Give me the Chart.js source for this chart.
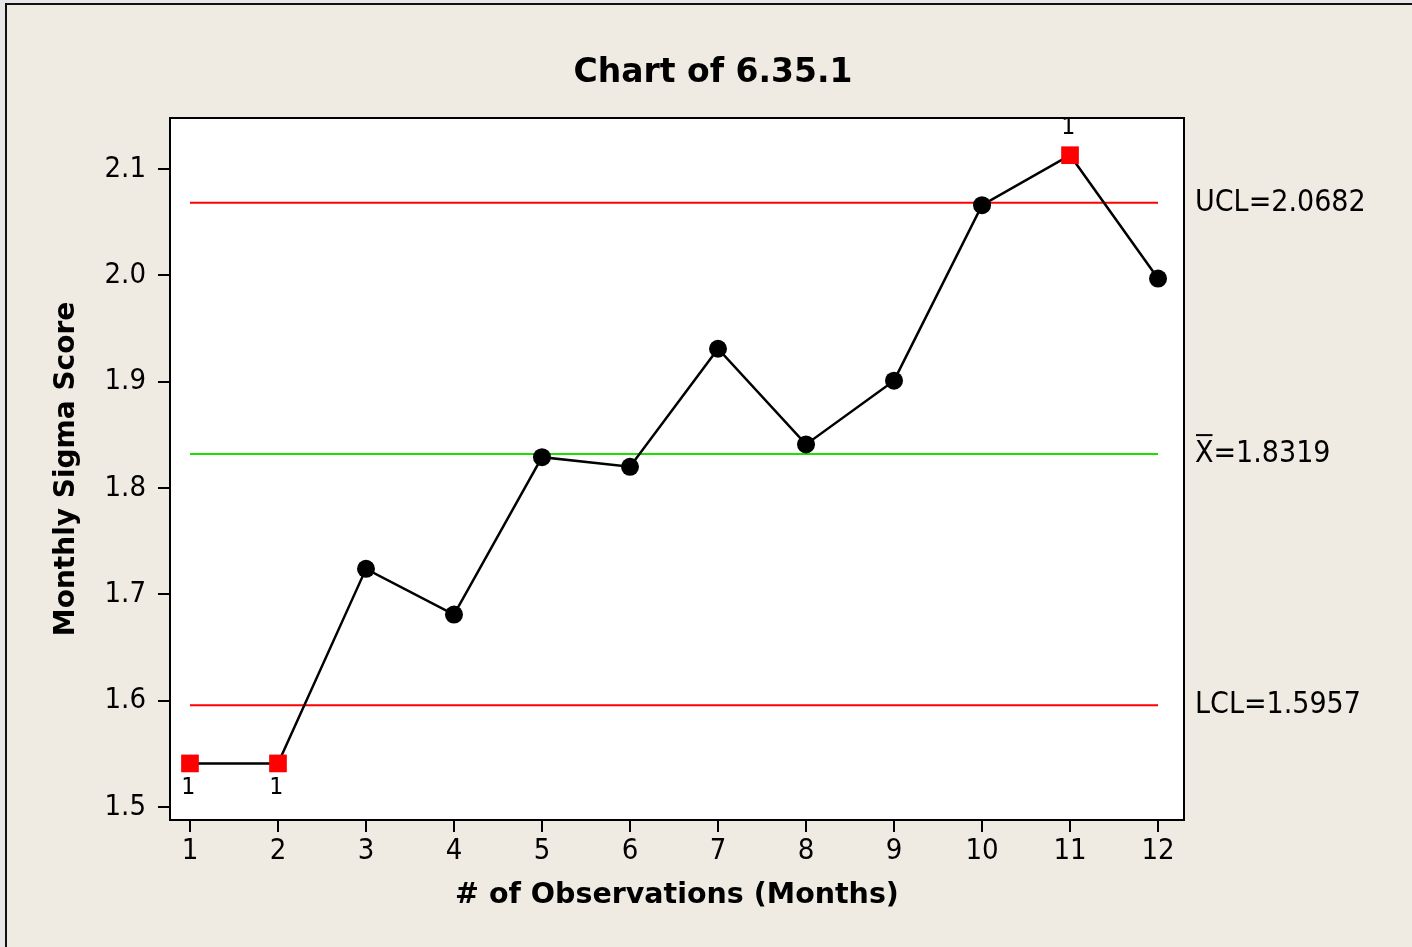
<!DOCTYPE html>
<html>
<head>
<meta charset="utf-8">
<title>Chart of 6.35.1</title>
<script src="https://cdn.jsdelivr.net/npm/chart.js@4.4.1/dist/chart.umd.min.js"></script>
<style>
  html, body { margin: 0; padding: 0; background: #e7e7e9; }
  canvas { display: block; }
</style>
</head>
<body>
<canvas id="chart" width="1412" height="947"></canvas>
<script>
const months = [1, 2, 3, 4, 5, 6, 7, 8, 9, 10, 11, 12];
const sigmaScores = [1.541, 1.541, 1.724, 1.681, 1.829, 1.820, 1.931, 1.841, 1.901, 2.066, 2.113, 1.997];
// points that failed test 1 (beyond the limits)
const failedTest = [true, true, false, false, false, false, false, false, false, false, true, false];

const ucl = 2.0682;
const xBar = 1.8319;
const lcl = 1.5957;

const yTicks = [1.5, 1.6, 1.7, 1.8, 1.9, 2.0, 2.1];

const FONT = '"DejaVu Sans Condensed", "DejaVu Sans", sans-serif';
const BOLD_FONT = '"DejaVu Sans", sans-serif';
const BG = '#efebe2';

// control line from first to last observation
const flatLine = (v) => [{ x: months[0], y: v }, { x: months[months.length - 1], y: v }];

const minitabLook = {
	id: 'minitabLook',
	beforeDraw(chart) {
		const { ctx, width, height, chartArea: a } = chart;
		ctx.save();
		ctx.fillStyle = BG;
		ctx.fillRect(7, 5, width - 7, height - 5);
		ctx.strokeStyle = '#111';
		ctx.lineWidth = 2;
		ctx.beginPath();
		ctx.moveTo(6, height);
		ctx.lineTo(6, 4);
		ctx.lineTo(width, 4);
		ctx.stroke();
		ctx.fillStyle = '#fff';
		ctx.fillRect(a.left, a.top, a.right - a.left, a.bottom - a.top);
		ctx.restore();
	},
	afterDraw(chart) {
		const { ctx, chartArea: a } = chart;
		const xs = chart.scales.x;
		const ys = chart.scales.y;
		ctx.save();

		// plot box
		ctx.strokeStyle = '#000';
		ctx.lineWidth = 2;
		ctx.strokeRect(a.left, a.top, a.right - a.left, a.bottom - a.top);

		// title
		ctx.fillStyle = '#000';
		ctx.font = 'bold 33px ' + BOLD_FONT;
		ctx.textAlign = 'center';
		ctx.textBaseline = 'middle';
		ctx.fillText('Chart of 6.35.1', 713, 73);

		// limit labels
		ctx.font = '30px ' + FONT;
		ctx.textAlign = 'left';
		const lx = a.right + 11;
		ctx.fillText('UCL=' + ucl.toFixed(4), lx, ys.getPixelForValue(ucl));
		ctx.fillText('LCL=' + lcl.toFixed(4), lx, ys.getPixelForValue(lcl));
		const my = ys.getPixelForValue(xBar);
		ctx.fillText('X=' + xBar.toFixed(4), lx, my);
		const xw = ctx.measureText('X').width;
		ctx.fillRect(lx + 1, my - 20, xw - 2, 2);

		// test 1 flags
		ctx.font = '23px "DejaVu Sans Mono", monospace';
		ctx.textAlign = 'center';
		sigmaScores.forEach((v, i) => {
			if (!failedTest[i]) return;
			const px = xs.getPixelForValue(months[i]);
			const py = ys.getPixelForValue(v);
			ctx.fillText('1', px - 2, v > xBar ? py - 27 : py + 25);
		});
		ctx.restore();
	}
};

const limitStyle = (color) => ({
	borderColor: color,
	borderWidth: 2,
	pointRadius: 0,
	fill: false,
	order: 2
});

new Chart(document.getElementById('chart'), {
	type: 'line',
	data: {
		datasets: [
			Object.assign({ label: 'UCL', data: flatLine(ucl) }, limitStyle('#ff0000')),
			Object.assign({ label: 'Mean', data: flatLine(xBar) }, limitStyle('#1ee000')),
			Object.assign({ label: 'LCL', data: flatLine(lcl) }, limitStyle('#ff0000')),
			{
				label: 'Monthly Sigma Score',
				data: months.map((m, i) => ({ x: m, y: sigmaScores[i] })),
				borderColor: '#000',
				borderWidth: 2.5,
				tension: 0,
				pointStyle: (c) => failedTest[c.dataIndex] ? 'rect' : 'circle',
				pointRadius: (c) => failedTest[c.dataIndex] ? 12.5 : 9,
				pointBackgroundColor: (c) => failedTest[c.dataIndex] ? '#ff0000' : '#000',
				pointBorderColor: (c) => failedTest[c.dataIndex] ? '#ff0000' : '#000',
				pointBorderWidth: 0,
				order: 1
			}
		]
	},
	options: {
		responsive: false,
		animation: false,
		layout: { padding: { top: 118, right: 228, bottom: 0, left: 0 } },
		plugins: {
			legend: { display: false },
			title: { display: false },
			tooltip: { enabled: false }
		},
		scales: {
			x: {
				type: 'linear',
				min: 0.773,
				max: 12.295,
				afterFit: (s) => { s.height = 127; },
				afterBuildTicks: (s) => { s.ticks = months.map((v) => ({ value: v })); },
				grid: { drawOnChartArea: false, drawTicks: true, tickLength: 12, color: '#000', lineWidth: 2 },
				border: { display: true, color: '#000', width: 2 },
				ticks: { color: '#000', font: { family: FONT, size: 29 }, padding: 2, maxRotation: 0 },
				title: {
					display: true,
					text: '# of Observations (Months)',
					color: '#000',
					font: { family: BOLD_FONT, size: 28.5, weight: 'bold' },
					padding: { top: 0, bottom: 34 }
				}
			},
			y: {
				min: 1.4878,
				max: 2.148,
				afterFit: (s) => { s.width = 170; },
				afterBuildTicks: (s) => { s.ticks = yTicks.map((v) => ({ value: v })); },
				grid: { drawOnChartArea: false, drawTicks: true, tickLength: 12, color: '#000', lineWidth: 2 },
				border: { display: true, color: '#000', width: 2 },
				ticks: { color: '#000', font: { family: FONT, size: 29 }, padding: 12, callback: (v) => v.toFixed(1) },
				title: {
					display: true,
					text: 'Monthly Sigma Score',
					color: '#000',
					font: { family: BOLD_FONT, size: 28, weight: 'bold' },
					padding: { top: 50, bottom: 0 }
				}
			}
		}
	},
	plugins: [minitabLook]
});
</script>
</body>
</html>
